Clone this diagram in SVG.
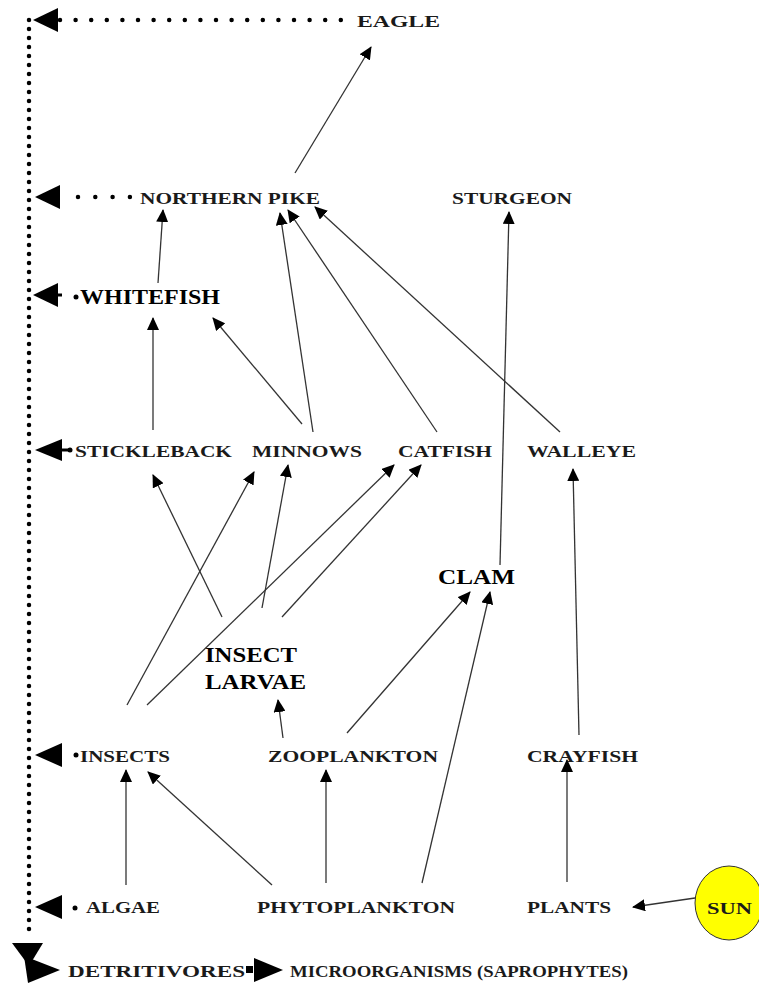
<svg xmlns="http://www.w3.org/2000/svg" width="759" height="983" viewBox="0 0 759 983">
<defs>
<marker id="ah" markerUnits="userSpaceOnUse" markerWidth="14" markerHeight="12" refX="12" refY="6" orient="auto">
<path d="M0,0 L13,6 L0,12 Z" fill="#000"/>
</marker>
<style>
.t{font-family:"Liberation Serif","Times New Roman",serif;font-weight:bold;font-size:17.5px;fill:#1a1a1a}
.b{font-size:21px;fill:#000}
.e{stroke:#333;stroke-width:1.3;fill:none;marker-end:url(#ah)}
.dot{stroke:#000;stroke-width:4.5;stroke-linecap:round;fill:none}
.big{fill:#000}
</style>
</defs>
<rect width="759" height="983" fill="#fff"/>

<g id="detritus-path">
<line class="dot" x1="29" y1="20" x2="29" y2="938" stroke-dasharray="0 9"/>
<line class="dot" x1="60" y1="20" x2="356" y2="20" stroke-dasharray="0 15.6"/>
<line class="dot" x1="78" y1="197" x2="130" y2="197" stroke-dasharray="0 17.3"/>
<polygon class="big" points="33,20 58,8 58,32"/>
<polygon class="big" points="35,197 60,185 60,209"/>
<polygon class="big" points="33,295 58,283 58,307"/>
<line x1="56" y1="295" x2="62" y2="295" stroke="#000" stroke-width="3"/>
<circle cx="76" cy="297" r="2.5" fill="#000"/>
<polygon class="big" points="35,450 62,439 62,461"/>
<line x1="58" y1="450" x2="70" y2="450" stroke="#000" stroke-width="3"/>
<circle cx="70" cy="450" r="2.5" fill="#000"/>
<polygon class="big" points="35,755 62,743 62,767"/>
<circle cx="76" cy="755" r="2.5" fill="#000"/>
<polygon class="big" points="35,907 62,895 62,919"/>
<circle cx="75" cy="908" r="2.5" fill="#000"/>
<polygon class="big" points="12,943 43,943 29,966"/>
<polygon class="big" points="24,956 60,970 28,983"/>
<rect x="246" y="966" width="7" height="7" fill="#000"/>
<polygon class="big" points="254,958 283,970 254,982"/>
</g>

<g id="connectors">
<line class="e" x1="295" y1="173" x2="371" y2="47"/>
<line class="e" x1="158" y1="283" x2="163" y2="210"/>
<line class="e" x1="313" y1="432" x2="280" y2="213"/>
<line class="e" x1="437" y1="432" x2="288" y2="210"/>
<line class="e" x1="560" y1="432" x2="315" y2="207"/>
<line class="e" x1="153" y1="430" x2="153" y2="318"/>
<line class="e" x1="302" y1="424" x2="213" y2="318"/>
<line class="e" x1="500" y1="565" x2="509" y2="212"/>
<line class="e" x1="579" y1="735" x2="573" y2="469"/>
<line class="e" x1="222" y1="617" x2="153" y2="475"/>
<line class="e" x1="127" y1="705" x2="254" y2="472"/>
<line class="e" x1="262" y1="608" x2="288" y2="465"/>
<line class="e" x1="147" y1="705" x2="394" y2="465"/>
<line class="e" x1="282" y1="617" x2="421" y2="465"/>
<line class="e" x1="347" y1="733" x2="470" y2="592"/>
<line class="e" x1="422" y1="883" x2="490" y2="592"/>
<line class="e" x1="283" y1="738" x2="278" y2="700"/>
<line class="e" x1="126" y1="885" x2="126" y2="770"/>
<line class="e" x1="272" y1="885" x2="148" y2="772"/>
<line class="e" x1="326" y1="883" x2="326" y2="770"/>
<line class="e" x1="567" y1="882" x2="567" y2="760"/>
<line class="e" x1="695" y1="898" x2="633" y2="907"/>
</g>

<g id="eagle"><text class="t" x="357" y="27" font-size="19" textLength="83" lengthAdjust="spacingAndGlyphs">EAGLE</text></g>
<g id="northern-pike"><text class="t" x="140" y="204" textLength="180" lengthAdjust="spacingAndGlyphs">NORTHERN PIKE</text></g>
<g id="sturgeon"><text class="t" x="452" y="204" textLength="120" lengthAdjust="spacingAndGlyphs">STURGEON</text></g>
<g id="whitefish"><text class="t b" x="80" y="304" textLength="140" lengthAdjust="spacingAndGlyphs">WHITEFISH</text></g>
<g id="stickleback"><text class="t" x="75" y="457" textLength="157" lengthAdjust="spacingAndGlyphs">STICKLEBACK</text></g>
<g id="minnows"><text class="t" x="252" y="457" textLength="110" lengthAdjust="spacingAndGlyphs">MINNOWS</text></g>
<g id="catfish"><text class="t" x="398" y="457" textLength="94" lengthAdjust="spacingAndGlyphs">CATFISH</text></g>
<g id="walleye"><text class="t" x="527" y="457" textLength="109" lengthAdjust="spacingAndGlyphs">WALLEYE</text></g>
<g id="clam"><text class="t b" x="438" y="584" textLength="77" lengthAdjust="spacingAndGlyphs">CLAM</text></g>
<g id="insect-larvae"><text class="t b" x="205" y="662" textLength="92" lengthAdjust="spacingAndGlyphs">INSECT</text><text class="t b" x="205" y="689" textLength="101" lengthAdjust="spacingAndGlyphs">LARVAE</text></g>
<g id="insects"><text class="t" x="80" y="762" textLength="90" lengthAdjust="spacingAndGlyphs">INSECTS</text></g>
<g id="zooplankton"><text class="t" x="268" y="762" textLength="170" lengthAdjust="spacingAndGlyphs">ZOOPLANKTON</text></g>
<g id="crayfish"><text class="t" x="527" y="762" textLength="111" lengthAdjust="spacingAndGlyphs">CRAYFISH</text></g>
<g id="algae"><text class="t" x="86" y="913" textLength="74" lengthAdjust="spacingAndGlyphs">ALGAE</text></g>
<g id="phytoplankton"><text class="t" x="257" y="913" textLength="198" lengthAdjust="spacingAndGlyphs">PHYTOPLANKTON</text></g>
<g id="plants"><text class="t" x="527" y="913" textLength="84" lengthAdjust="spacingAndGlyphs">PLANTS</text></g>
<g id="sun"><ellipse cx="729" cy="903" rx="34" ry="37" fill="#ffff00" stroke="#333" stroke-width="1"/><text class="t" x="707" y="914" textLength="45" lengthAdjust="spacingAndGlyphs">SUN</text></g>
<g id="detritivores"><text class="t" x="68" y="977" textLength="177" lengthAdjust="spacingAndGlyphs">DETRITIVORES</text></g>
<g id="microorganisms"><text class="t" x="290" y="977" textLength="338" lengthAdjust="spacingAndGlyphs">MICROORGANISMS (SAPROPHYTES)</text></g>
</svg>
